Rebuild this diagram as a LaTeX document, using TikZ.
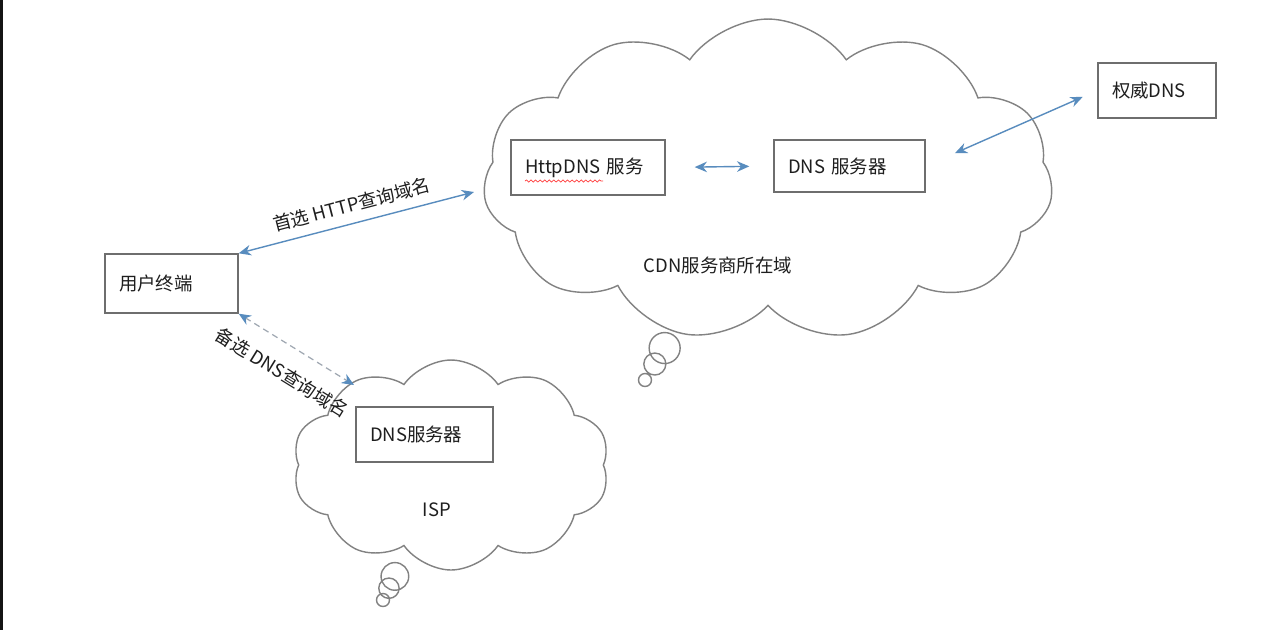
\documentclass[tikz,border=0pt]{standalone}
\usepackage{fontspec}
\setmainfont{Noto Sans CJK SC}
\usetikzlibrary{arrows.meta, shapes.symbols, shapes.callouts, decorations.pathmorphing}
\definecolor{arrowblue}{RGB}{88,140,190}
\definecolor{cloudgray}{RGB}{130,130,130}
\definecolor{boxgray}{RGB}{110,110,110}
\definecolor{dashgray}{RGB}{160,168,178}
\definecolor{textdark}{RGB}{30,30,30}

\begin{document}
\begin{tikzpicture}[x=0.02cm, y=-0.02cm, >={Stealth[length=7pt,width=6pt]},
    font=\fontsize{10.5}{12}\selectfont, text=textdark,
    srvbox/.style={draw=boxgray, line width=0.8pt, fill=white, inner xsep=0.28cm, align=left},
    bubble/.style={cloud callout, draw=cloudgray, line width=0.8pt, fill=white,
      cloud puffs=11, cloud puff arc=110, cloud ignores aspect, callout pointer segments=3},
    link/.style={<->, arrowblue, line width=0.8pt},
    altlink/.style={{Stealth[length=7pt,width=6pt,color=arrowblue]}-{Stealth[length=7pt,width=6pt,color=arrowblue]},
      draw=dashgray, line width=0.7pt, dash pattern=on 3.5pt off 2.5pt},
    linklabel/.style={text=textdark, sloped, midway}]
    % Background
    \fill[white] (0,0) rectangle (1278,630);
    \fill[black!92] (0,0) rectangle (3,630);
    \useasboundingbox (0,0) rectangle (1278,630);

    % Clouds
    \node[bubble, minimum width=11.4cm, minimum height=6.44cm,
      callout absolute pointer={(645,380)},
      callout pointer start size=0.8cm, callout pointer end size=0.26cm] (cdn) at (768,180) {};
    \node (cdntxt) at (718,265) {CDN服务商所在域};

    \node[bubble, cloud puffs=10, minimum width=6.34cm, minimum height=4.2cm,
      callout absolute pointer={(383,600)},
      callout pointer start size=0.7cm, callout pointer end size=0.26cm] (isp) at (451,465) {};
    \node (isptxt) at (437,510) {ISP};

    % Boxes
    \node[srvbox, text width=2.10cm, minimum height=1.18cm] (user) at (171.5,283.5) {用户终端};
    \node[srvbox, text width=2.52cm, minimum height=1.10cm] (httpdns) at (588,167.5) {HttpDNS 服务};
    \node[srvbox, text width=2.46cm, minimum height=1.04cm] (cdndns) at (849.5,166) {DNS 服务器};
    \node[srvbox, text width=2.18cm, minimum height=1.10cm] (ispdns) at (424.5,434.5) {DNS服务器};
    \node[srvbox, text width=1.80cm, minimum height=1.10cm] (auth) at (1157,90.5) {权威DNS};

    % Spell-check underline
    \draw[red!75, line width=0.4pt, decorate, decoration={snake, amplitude=0.6pt, segment length=2.6pt}]
      (525,181) -- (603,181);

    % Links
    \coordinate (httpin) at (474,192);
    \coordinate (ispin) at (354,385);
    \draw[link] (user.north east) -- (httpin)
      node[linklabel, above=2pt] (httplbl) {首选 HTTP查询域名};
    \draw[altlink] (user.south east) -- (ispin)
      node[linklabel, below=7pt] (dnslbl) {备选 DNS查询域名};
    \draw[link, shorten <=0.58cm, shorten >=0.48cm] (httpdns.east) -- (cdndns.west);
    \draw[link, shorten <=0.64cm, shorten >=0.32cm] (cdndns.east) -- (auth.west);
\end{tikzpicture}
\end{document}
